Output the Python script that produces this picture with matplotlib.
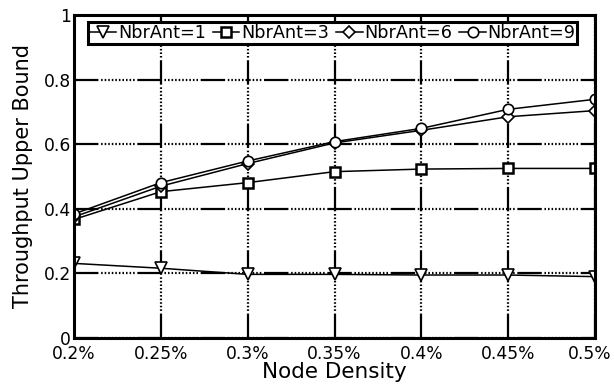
import matplotlib
matplotlib.use("Agg")
import matplotlib.pyplot as plt
import matplotlib.transforms as mtransforms

plt.rcParams['font.family'] = ['DejaVu Sans']

x_labels = ["0.2%", "0.25%", "0.3%", "0.35%", "0.4%", "0.45%", "0.5%"]
density = [0.2, 0.25, 0.3, 0.35, 0.4, 0.45, 0.5]
ant1 = [0.231, 0.216, 0.197, 0.197, 0.195, 0.195, 0.190]
ant3 = [0.367, 0.453, 0.481, 0.515, 0.523, 0.525, 0.525]
ant6 = [0.375, 0.470, 0.540, 0.604, 0.643, 0.685, 0.704]
ant9 = [0.384, 0.481, 0.548, 0.608, 0.649, 0.708, 0.739]
series = [("NbrAnt=1", ant1, 'v'), ("NbrAnt=3", ant3, 's'),
          ("NbrAnt=6", ant6, 'D'), ("NbrAnt=9", ant9, 'o')]
marker_style = {'v': (8, 1.2), 's': (7, 1.8), 'D': (6.3, 1.2), 'o': (7.5, 1.2)}

fig = plt.figure(figsize=(6.14, 3.84), dpi=100)
ax = fig.add_axes([74/614, 1-338/384, 521/614, 323/384])

for name, vals, m in series:
    ms, mew = marker_style[m]
    ax.plot(density, vals, color='black', lw=1.1, marker=m, ms=ms,
            mfc='white', mec='black', mew=mew, label=name, zorder=3)

ax.set_xlim(0.2, 0.5)
ax.set_ylim(0, 1)
ax.set_xticks(density)
ax.set_xticklabels(x_labels)
ax.set_yticks([0, 0.2, 0.4, 0.6, 0.8, 1.0])
ax.set_yticklabels(["0", "0.2", "0.4", "0.6", "0.8", "1"])
ax.tick_params(direction='in', length=0, labelsize=12.3, pad=2)
ax.tick_params(axis='x', pad=5)
ax.grid(True, color='black', lw=1.6,
        linestyle=(0, (11, 1.2, 0.7, 0.9, 0.7, 0.9, 0.7, 0.9, 0.7, 0.9, 0.7, 0.9,
                       0.7, 0.9, 0.7, 0.9, 0.7, 0.9, 0.7, 0.9, 0.7, 1.2)))
for s in ax.spines.values():
    s.set_linewidth(2.2)
    s.set_zorder(4)

# nudge the last x tick label inward so it stays inside the canvas
last = ax.get_xticklabels()[-1]
last.set_transform(last.get_transform() +
                   mtransforms.ScaledTranslation(-5/100, 0, fig.dpi_scale_trans))

ax.set_xlabel("Node Density", fontsize=15.5, labelpad=-1)
ax.set_ylabel("Throughput Upper Bound", fontsize=15, labelpad=8)

leg = ax.legend(loc='upper left', ncol=4, bbox_to_anchor=(0.027, 0.978),
                frameon=True, fancybox=False, fontsize=12.7,
                handlelength=1.5, handletextpad=0.1, columnspacing=0.4,
                borderpad=0.1, borderaxespad=0.0)
leg.get_frame().set_edgecolor('black')
leg.get_frame().set_linewidth(2.2)
leg.get_frame().set_alpha(1)
leg.set_zorder(5)

fig.savefig("out.png", dpi=100)
